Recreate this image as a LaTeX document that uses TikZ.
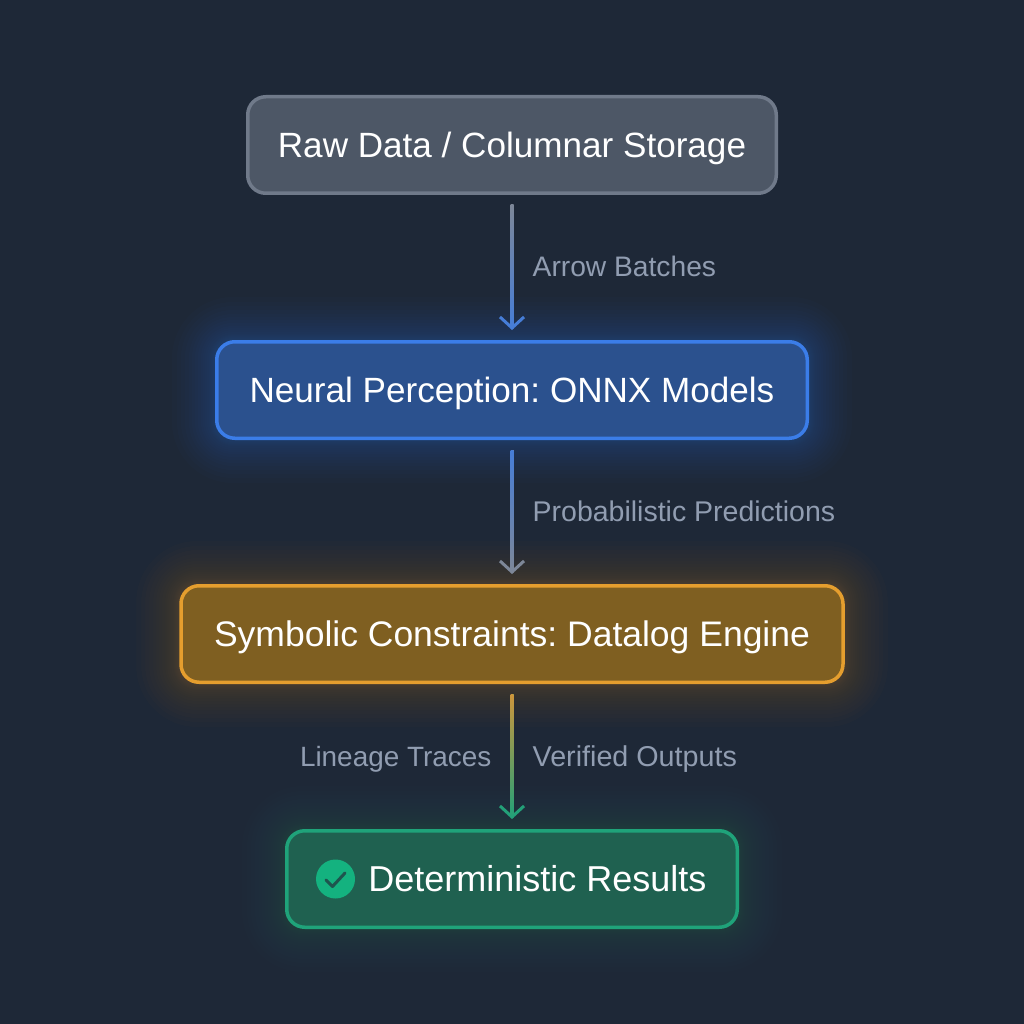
\documentclass[tikz,border=0pt]{standalone}
\usepackage{fontspec}
\setmainfont{Liberation Sans}
\usetikzlibrary{arrows.meta,backgrounds,calc}
\definecolor{bgc}{RGB}{30,40,55}
\definecolor{grayfill}{RGB}{77,87,102}
\definecolor{grayline}{RGB}{112,122,138}
\definecolor{bluefill}{RGB}{43,81,142}
\definecolor{blueline}{RGB}{59,125,232}
\definecolor{amberfill}{RGB}{127,95,33}
\definecolor{amberline}{RGB}{229,158,46}
\definecolor{greenfill}{RGB}{31,97,80}
\definecolor{greenline}{RGB}{31,163,122}
\definecolor{lbl}{RGB}{145,157,177}
\definecolor{shaftgray}{RGB}{125,135,152}
\definecolor{shaftblue}{RGB}{70,125,215}
\definecolor{shaftamber}{RGB}{205,150,60}
\definecolor{shaftgreen}{RGB}{35,160,120}
\definecolor{tickbg}{RGB}{20,178,127}
\definecolor{tickfg}{RGB}{30,85,78}
\tikzset{
  box/.style={draw,rounded corners=18pt,line width=3.5pt,align=center,text=white,inner sep=0pt,
    minimum height=96.5pt,text height=25pt,text depth=0pt},
  flowlabel/.style={text=lbl,inner sep=0pt,text height=20pt,text depth=0pt},
  conn/.style={line width=3pt,-{Straight Barb[length=11pt,width=24pt,line width=3pt]}},
  tickdisc/.style={circle,fill=tickbg,minimum size=39pt,inner sep=0pt},
  tickmark/.style={draw=tickfg,line width=3pt,line cap=round,line join=round}
}
\newcommand{\fs}[1]{\fontsize{#1}{#1}\selectfont\frenchspacing}
\newcommand{\glowbox}[3]{% node, colour, opacity
  \foreach \g in {1,2,3,4,5,6,8,10,12,14,17,20,23,26,30,34,38,43}{
    \fill[#2,opacity=#3,rounded corners=18pt+\g pt]
      ($(#1.south west)+(-\g pt,-\g pt)$) rectangle ($(#1.north east)+(\g pt,\g pt)$);
  }
}
\newcommand{\shaft}[4]{% from, to, top, bottom
  \shade[top color=#3,bottom color=#4]
    ($(#1.south)+(-1.5pt,-10pt)$) rectangle ($(#2.north)+(1.5pt,12pt)$);
}
\begin{document}
\begin{tikzpicture}[x=1pt,y=-1pt]
\useasboundingbox (0,0) rectangle (1024,1024);
\node[box,draw=grayline,fill=grayfill,minimum width=528.5pt,font=\fs{35.1}] (raw) at (512,145) {Raw Data / Columnar Storage};
\node[box,draw=blueline,fill=bluefill,minimum width=590.5pt,font=\fs{35.1}] (neural) at (512,390) {Neural Perception: ONNX Models};
\node[box,draw=amberline,fill=amberfill,minimum width=662pt,font=\fs{35.5}] (sym) at (512,634) {Symbolic Constraints: Datalog Engine};
\node[box,draw=greenline,fill=greenfill,minimum width=450.5pt,font=\fs{36}] (det) at (512,879) {\hspace{51pt}Deterministic Results};
\node[tickdisc] (tick) at (335.5,879) {};
\draw[tickmark] ($(tick.center)+(-9.5pt,-1pt)$) -- ($(tick.center)+(-3pt,-7.5pt)$) -- ($(tick.center)+(9.5pt,6pt)$);
\begin{scope}[on background layer]
  \fill[bgc] (0,0) rectangle (1024,1024);
  \glowbox{raw}{grayline}{0.012}
  \glowbox{neural}{blueline}{0.018}
  \glowbox{sym}{amberline}{0.014}
  \glowbox{det}{greenline}{0.016}
\end{scope}
\draw[conn,shaftblue] ($(raw.south)+(0,-10pt)$) -- ($(neural.north)+(0,10pt)$);
\shaft{raw}{neural}{shaftgray}{shaftblue}
\draw[conn,shaftgray] ($(neural.south)+(0,-10pt)$) -- ($(sym.north)+(0,10pt)$);
\shaft{neural}{sym}{shaftblue}{shaftgray}
\draw[conn,shaftgreen] ($(sym.south)+(0,-10pt)$) -- ($(det.north)+(0,10pt)$);
\shaft{sym}{det}{shaftamber}{shaftgreen}
\node[flowlabel,anchor=west,font=\fs{28.2}] (l1) at (532.5,266.5) {Arrow Batches};
\node[flowlabel,anchor=west,font=\fs{28.5}] (l2) at (532.5,511.5) {Probabilistic Predictions};
\node[flowlabel,anchor=east,font=\fs{27.9}] (l3) at (491.5,756.5) {Lineage Traces};
\node[flowlabel,anchor=west,font=\fs{28.7}] (l4) at (532.5,756.5) {Verified Outputs};
\end{tikzpicture}
\end{document}
